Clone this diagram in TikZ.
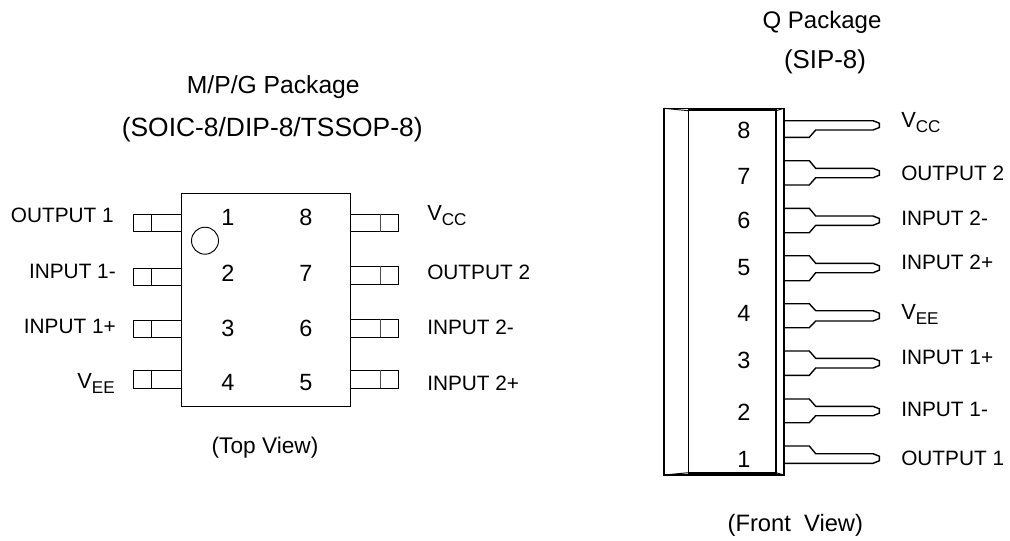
\documentclass[tikz,border=0pt]{standalone}
\usepackage{fontspec}
\setmainfont{Liberation Sans}
\newcommand{\subV}[1]{{\fontsize{16.4}{18}\selectfont V}\raisebox{-3.9pt}{\fontsize{12.8}{14}\selectfont #1}}
\tikzset{
  x=0.75pt,y=-0.75pt,
  thinline/.style={draw=black,line width=0.7pt},
  thickline/.style={draw=black,line width=1.05pt,line join=miter},
  greyline/.style={draw=black!70,line width=0.7pt},
  lbl/.style={inner sep=0pt,font=\fontsize{15.6}{18}\selectfont},
  lbll/.style={lbl,anchor=base east},
  lblr/.style={lbl,anchor=base west},
  num/.style={inner sep=0pt,anchor=base,font=\fontsize{17.6}{20}\selectfont},
  ttl/.style={inner sep=0pt,anchor=base},
}
% lead of the SIP package: top, bottom, neck top, neck bottom
\newcommand{\sippin}[4]{\draw[thickline] (784,#1) -- (809.3,#1) -- (815.7,#3) -- (873,#3) -- (879.3,{#3+2.5}) -- (879.3,{#4-2.5}) -- (873,#4) -- (815.7,#4) -- (809.3,#2) -- (784,#2);}
\begin{document}
\begin{tikzpicture}
\useasboundingbox (0,0) rectangle (1010,540);
% titles
\node[ttl,font=\fontsize{18.5}{20}\selectfont] (t1) at (273.3,93.3) {M/P/G Package};
\node[ttl,font=\fontsize{19.8}{22}\selectfont] (t2) at (272.2,136) {(SOIC-8/DIP-8/TSSOP-8)};
\node[ttl,font=\fontsize{18}{20}\selectfont] (t3) at (822,28) {Q Package};
\node[ttl,font=\fontsize{19.4}{22}\selectfont] (t4) at (825,68.3) {(SIP-8)};
\node[ttl,font=\fontsize{17}{20}\selectfont] (t5) at (265,453.3) {(Top View)};
\node[ttl,font=\fontsize{17.8}{20}\selectfont] (t6) at (795.3,531.7) {(Front\ \ View)};
% SOIC body
\draw[thinline] (181,193.5) rectangle (350.3,406.3);
\draw[thinline] (205,240.7) circle (13.5);
% left leads
\foreach \a/\b in {214.3/231.7,268.3/285.3,320.3/337.3,370.7/388.3}{
  \draw[thinline] (181,\a) -- (133.3,\a) -- (133.3,\b) -- (181,\b);
  \draw[thinline] (151.3,\a) -- (151.3,\b);
}
% right leads
\foreach \a/\b in {214/231.7,266.3/284,319.3/337,370.3/388}{
  \draw[thinline] (350.3,\a) -- (398.3,\a) -- (398.3,\b) -- (350.3,\b);
  \draw[greyline] (380.7,\a) -- (380.7,\b);
}
% SOIC numbers
\node[num] (n1) at (228,225) {1};
\node[num] (n2) at (228,281.7) {2};
\node[num] (n3) at (228,336) {3};
\node[num] (n4) at (228,390) {4};
\node[num] (n8) at (306,225) {8};
\node[num] (n7) at (306,281.7) {7};
\node[num] (n6) at (306,336) {6};
\node[num] (n5) at (306,390) {5};
% SOIC labels
\node[lbll] (l1) at (114,222.7) {OUTPUT 1};
\node[lbll] (l2) at (116,278.3) {INPUT 1-};
\node[lbll] (l3) at (116,333.3) {INPUT 1+};
\node[lbll] (l4) at (115,388.3) {\subV{EE}};
\node[lblr] (l8) at (427,220.7) {\subV{CC}};
\node[lblr] (l7) at (427,279) {OUTPUT 2};
\node[lblr] (l6) at (427,334.3) {INPUT 2-};
\node[lblr] (l5) at (427,390) {INPUT 2+};
% SIP body
\draw[thickline,line width=1.2pt] (664,108.3) rectangle (784,475);
\draw[thickline] (688.3,108.3) -- (688.3,475);
\draw[thickline] (776,108.3) -- (776,475);
\draw[thickline,line width=1.5pt] (688.3,110.3) -- (776,110.3);
\draw[thickline,line width=1.5pt] (688.3,473) -- (776,473);
\draw[thinline] (664,108.3) -- (688.3,110.7);
\draw[thinline] (776,110.7) -- (784,108.3);
\draw[thinline] (664,475) -- (688.3,472.7);
\draw[thinline] (776,472.7) -- (784,475);
% SIP leads
\sippin{120.7}{137.3}{120.7}{130}
\sippin{160.7}{185}{168.3}{177.7}
\sippin{208.3}{232.7}{216}{225.3}
\sippin{255.7}{280.7}{263.3}{272.7}
\sippin{303.7}{327.7}{310.7}{321}
\sippin{351}{375.3}{358.3}{368}
\sippin{399}{422.7}{406.3}{415.7}
\sippin{446}{463.3}{453.7}{463.3}
% SIP numbers
\node[num] (s8) at (744,138.3) {8};
\node[num] (s7) at (744,184) {7};
\node[num] (s6) at (744,228.3) {6};
\node[num] (s5) at (744,275) {5};
\node[num] (s4) at (744,321.7) {4};
\node[num] (s3) at (744,368.3) {3};
\node[num] (s2) at (744,420) {2};
\node[num] (s1) at (744,467.7) {1};
% SIP labels
\node[lblr] (r8) at (901,127.3) {\subV{CC}};
\node[lblr] (r7) at (901,180.7) {OUTPUT 2};
\node[lblr] (r6) at (901,225) {INPUT 2-};
\node[lblr] (r5) at (901,269.3) {INPUT 2+};
\node[lblr] (r4) at (901,319.3) {\subV{EE}};
\node[lblr] (r3) at (901,364) {INPUT 1+};
\node[lblr] (r2) at (901,416.7) {INPUT 1-};
\node[lblr] (r1) at (901,465) {OUTPUT 1};
\end{tikzpicture}
\end{document}
